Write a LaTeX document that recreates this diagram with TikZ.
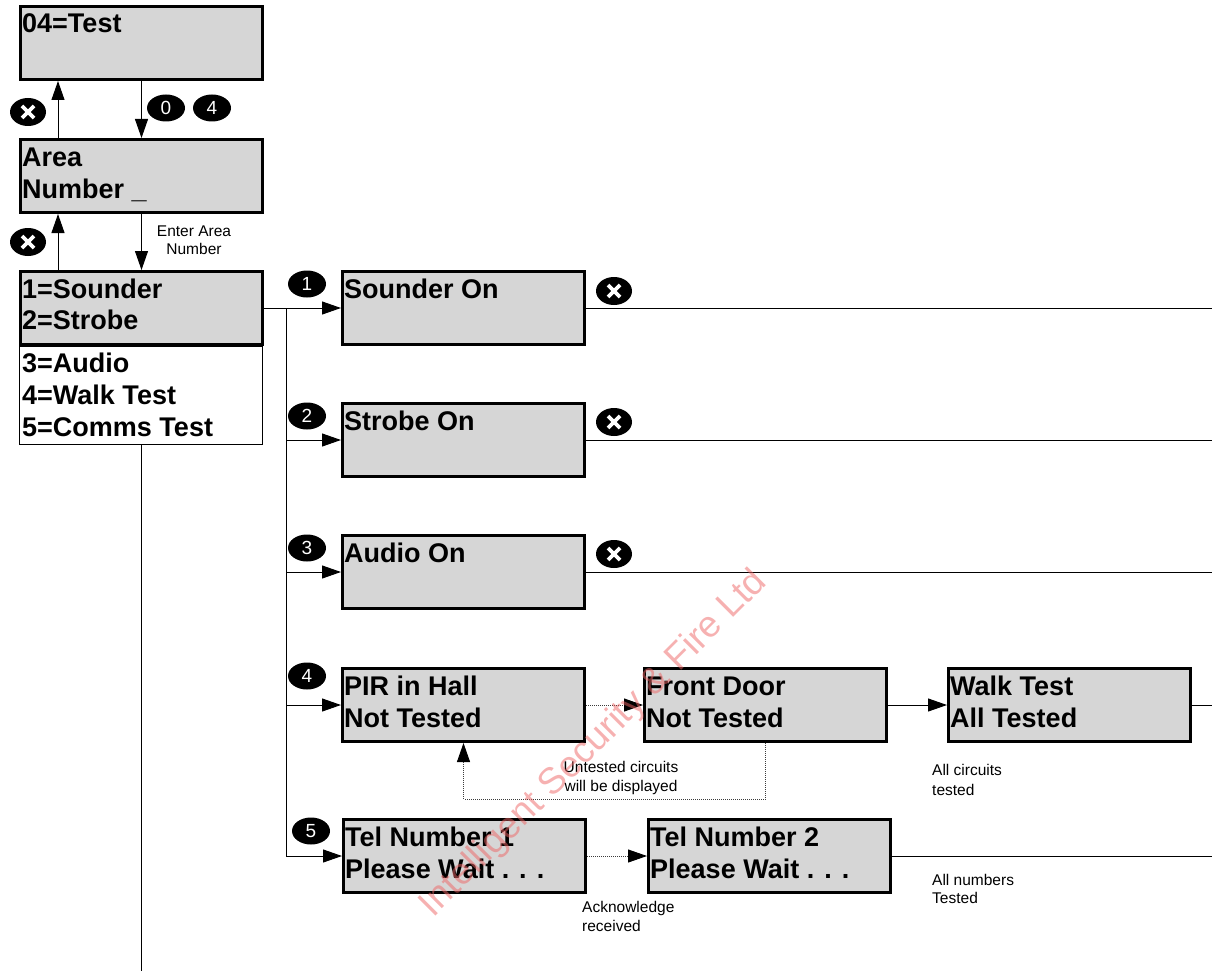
\documentclass[tikz,border=0pt]{standalone}
\usepackage{fontspec}
\setmainfont{Liberation Sans}
\usetikzlibrary{arrows.meta,calc,shapes.geometric}
\definecolor{boxgray}{RGB}{214,214,214}
\definecolor{wmred}{RGB}{238,100,100}
\definecolor{dotgray}{RGB}{60,60,60}
\begin{document}
\begin{tikzpicture}[x=1pt,y=-1pt,
  box/.style={draw=black,line width=3pt,fill=boxgray,minimum width=242pt,minimum height=73pt,inner sep=0pt,anchor=north west},
  bt/.style={font=\bfseries\fontsize{27}{32}\selectfont,inner sep=0pt,anchor=base west},
  st/.style={font=\fontsize{15.5}{18}\selectfont,inner sep=0pt,anchor=base west},
  line/.style={draw=black,line width=1pt},
  arr/.style={line,-{Triangle[length=19pt,width=13pt]}},
  dotarr/.style={draw=dotgray,line width=0.9pt,dash pattern=on 1pt off 1pt,-{Triangle[length=19pt,width=13pt,color=black]}},
  nb/.style={ellipse,fill=black,text=white,minimum width=38pt,minimum height=27pt,inner sep=0pt,font=\fontsize{19}{19}\selectfont},
  xb/.style={ellipse,fill=black,minimum width=36pt,minimum height=28pt,inner sep=0pt,
    path picture={
      \draw[white,line width=3.6pt] ($(path picture bounding box.center)+(-6,-6)$) -- ($(path picture bounding box.center)+(6,6)$);
      \draw[white,line width=3.6pt] ($(path picture bounding box.center)+(-6,6)$) -- ($(path picture bounding box.center)+(6,-6)$);}}
]
\useasboundingbox (0,0) rectangle (1212,971);
\coordinate (e) at (1212,0);
\coordinate (bot) at (0,971);
\coordinate (lp) at (0,799);

% left column
\node[box] (b1) at (19,5) {};
\node[bt] (t1) at ($(b1.north west)+(3,28)$) {04=Test};
\node[box] (b2) at (19,138) {};
\node[bt] (t2a) at ($(b2.north west)+(3,28)$) {Area};
\node[bt] (t2b) at ($(b2.north west)+(3,60)$) {Number \_};
\node[draw=black,line width=1.2pt,fill=white,minimum width=243pt,minimum height=98pt,inner sep=0pt,anchor=north west] (m2) at (19,346) {};
\node[box] (m1) at (19,270) {};
\node[bt] (m1a) at ($(m1.north west)+(3,28)$) {1=Sounder};
\node[bt] (m1b) at ($(m1.north west)+(3,59)$) {2=Strobe};
\node[bt] (m1c) at ($(m1.north west)+(3,102)$) {3=Audio};
\node[bt] (m1d) at ($(m1.north west)+(3,134)$) {4=Walk Test};
\node[bt] (m1e) at ($(m1.north west)+(3,166)$) {5=Comms Test};

\draw[arr] (b1.south) -- (b2.north);
\draw[arr] ($(b2.north west)+(39,0)$) -- ($(b1.south west)+(39,0)$);
\draw[arr] (b2.south) -- (m1.north);
\draw[arr] ($(m1.north west)+(39,0)$) -- ($(b2.south west)+(39,0)$);
\node[xb] (x1) at (28,112) {};
\node[nb] (n0) at (166,108) {0};
\node[nb] (n4) at (212,108) {4};
\node[xb] (x2) at (28,242) {};
\node[st,anchor=base] (ea1) at (194,236) {Enter Area};
\node[st,anchor=base] (ea2) at (194,254) {Number};
\draw[line] (m2.south) -- (m2.south |- bot);

% right boxes
\node[box] (s1) at (341,270) {};
\node[bt] (s1t) at ($(s1.north west)+(3,28)$) {Sounder On};
\node[box] (s2) at (341,402) {};
\node[bt] (s2t) at ($(s2.north west)+(3,28)$) {Strobe On};
\node[box] (s3) at (341,534) {};
\node[bt] (s3t) at ($(s3.north west)+(3,28)$) {Audio On};
\node[box] (s4) at (341,667) {};
\node[bt] (s4a) at ($(s4.north west)+(3,28)$) {PIR in Hall};
\node[bt] (s4b) at ($(s4.north west)+(3,60)$) {Not Tested};
\node[box] (f) at (643,667) {};
\node[bt] (fa) at ($(f.north west)+(3,28)$) {Front Door};
\node[bt] (fb) at ($(f.north west)+(3,60)$) {Not Tested};
\node[box] (w) at (947,667) {};
\node[bt] (wa) at ($(w.north west)+(3,28)$) {Walk Test};
\node[bt] (wb) at ($(w.north west)+(3,60)$) {All Tested};
\node[box] (s5) at (342,818) {};
\node[bt] (s5a) at ($(s5.north west)+(3,28)$) {Tel Number 1};
\node[bt] (s5b) at ($(s5.north west)+(3,60)$) {Please Wait . . .};
\node[box] (t2) at (647,818) {};
\node[bt] (t2ta) at ($(t2.north west)+(3,28)$) {Tel Number 2};
\node[bt] (t2tb) at ($(t2.north west)+(3,60)$) {Please Wait . . .};

% trunk and branches
\coordinate (j1) at ($(m1.east)+(22,0)$);
\draw[line] (m1.east) -- (j1);
\draw[line] (j1) -- (j1 |- s5.west);
\draw[arr] (j1) -- (s1.west);
\draw[arr] (j1 |- s2.west) -- (s2.west);
\draw[arr] (j1 |- s3.west) -- (s3.west);
\draw[arr] (j1 |- s4.west) -- (s4.west);
\draw[arr] (j1 |- s5.west) -- (s5.west);

\node[nb] (c1) at (307,284) {1};
\node[nb] (c2) at (307,416) {2};
\node[nb] (c3) at (307,548) {3};
\node[nb] (c4) at (307,676) {4};
\node[nb] (c5) at (311,831) {5};

\draw[line] (s1.east) -- (s1.east -| e);
\draw[line] (s2.east) -- (s2.east -| e);
\draw[line] (s3.east) -- (s3.east -| e);
\node[xb] (x3) at (614,291) {};
\node[xb] (x4) at (614,422) {};
\node[xb] (x5) at (614,554) {};

\draw[dotarr] (s4.east) -- (f.west);
\draw[arr] (f.east) -- (w.west);
\draw[line] (w.east) -- (w.east -| e);
\draw[dotarr] (f.south) -- (f.south |- lp) -| (s4.south);
\node[st,anchor=base] (u1) at (621,772) {Untested circuits};
\node[st,anchor=base] (u2) at (621,791) {will be displayed};
\node[st] (ac1) at (932,775) {All circuits};
\node[st] (ac2) at (932,795) {tested};

\draw[dotarr] (s5.east) -- (t2.west);
\draw[line] (t2.east) -- (t2.east -| e);
\node[st] (k1) at (582,912) {Acknowledge};
\node[st] (k2) at (582,931) {received};
\node[st] (an1) at (932,885) {All numbers};
\node[st] (an2) at (932,903) {Tested};

% watermark
\node[text=wmred,opacity=0.5,rotate=45,font=\fontsize{37}{37}\selectfont,inner sep=0pt] (wm) at (594,744) {Intelligent Security \& Fire Ltd};
\end{tikzpicture}
\end{document}
